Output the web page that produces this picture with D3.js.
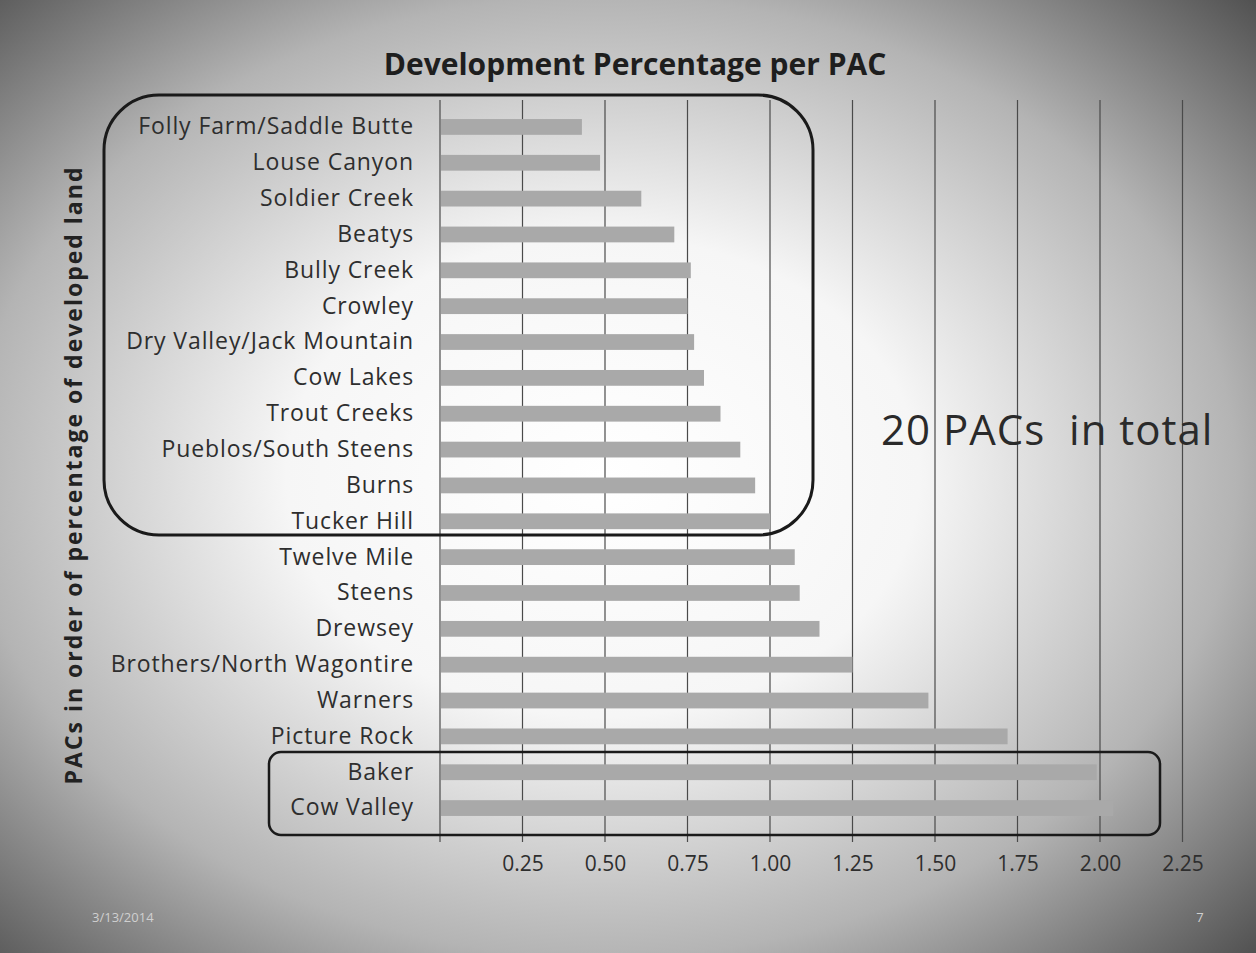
<!DOCTYPE html>
<html>
<head>
<meta charset="utf-8">
<script src="https://cdn.jsdelivr.net/npm/d3@7"></script>
<style>
    html, body { margin: 0; padding: 0; background: #fff; }
    svg { display: block; font-family: "Open Sans", sans-serif; }
</style>
</head>
<body>
<div id="slide"></div>
<script>
// PACs, lowest developed share first
const pacNames = [
    "Folly Farm/Saddle Butte", "Louse Canyon", "Soldier Creek", "Beatys",
    "Bully Creek", "Crowley", "Dry Valley/Jack Mountain", "Cow Lakes",
    "Trout Creeks", "Pueblos/South Steens", "Burns", "Tucker Hill",
    "Twelve Mile", "Steens", "Drewsey", "Brothers/North Wagontire",
    "Warners", "Picture Rock", "Baker", "Cow Valley"
];
const devPercent = [
    0.43, 0.485, 0.61, 0.71, 0.76, 0.75, 0.77, 0.80, 0.85, 0.91,
    0.955, 1.00, 1.075, 1.09, 1.15, 1.25, 1.48, 1.72, 1.99, 2.04
];
const xTicks = [0.25, 0.50, 0.75, 1.00, 1.25, 1.50, 1.75, 2.00, 2.25];

class DevBarChart {
    constructor(_parentElement) {
        this.parentElement = _parentElement;
        this.data = pacNames.map((name, i) => ({ name: name, value: devPercent[i] }));
        this.initVis();
    }

    initVis() {
        let vis = this;

        vis.width = 1256;
        vis.height = 953;

        vis.svg = d3.select("#" + vis.parentElement).append("svg")
            .attr("width", vis.width)
            .attr("height", vis.height);

        // slide background, light in the middle, darker towards the edges
        let grad = vis.svg.append("defs").append("radialGradient")
            .attr("id", "bg-grad")
            .attr("cx", "0.48").attr("cy", "0.5").attr("r", "0.72");
        grad.append("stop").attr("offset", "0").attr("stop-color", "#ffffff");
        grad.append("stop").attr("offset", "0.35").attr("stop-color", "#f6f6f6");
        grad.append("stop").attr("offset", "0.7").attr("stop-color", "#b4b4b4");
        grad.append("stop").attr("offset", "1").attr("stop-color", "#525252");

        vis.svg.append("rect")
            .attr("width", vis.width)
            .attr("height", vis.height)
            .attr("fill", "url(#bg-grad)");

        vis.xScale = d3.scaleLinear()
            .domain([0, 2.25])
            .range([440, 1182.5]);

        vis.yScale = d3.scaleBand()
            .domain(pacNames)
            .range([109, 826])
            .paddingInner(0.56)
            .paddingOuter(0.28);

        // vertical gridlines
        vis.svg.append("g")
            .selectAll("line")
            .data(xTicks)
            .join("line")
            .attr("x1", d => vis.xScale(d))
            .attr("x2", d => vis.xScale(d))
            .attr("y1", 100)
            .attr("y2", 842)
            .attr("stroke", "#4a4a4a")
            .attr("stroke-width", 1.2);

        // bars
        vis.svg.append("g")
            .selectAll("rect")
            .data(vis.data)
            .join("rect")
            .attr("x", vis.xScale(0) + 1)
            .attr("y", d => vis.yScale(d.name))
            .attr("width", d => vis.xScale(d.value) - vis.xScale(0) - 1)
            .attr("height", vis.yScale.bandwidth())
            .attr("fill", "#a9a9a9");

        // y axis (category labels)
        let yAxis = vis.svg.append("g")
            .attr("transform", `translate(${vis.xScale(0)},0)`)
            .call(d3.axisLeft(vis.yScale).tickSize(0).tickPadding(26));
        yAxis.select(".domain")
            .attr("stroke", "#4a4a4a")
            .attr("stroke-width", 1.2)
            .attr("d", "M0,100V842");
        yAxis.selectAll("text")
            .style("font-family", "Open Sans, sans-serif")
            .style("font-size", "23px")
            .style("letter-spacing", "0.9px")
            .style("fill", "#2e2e2e");

        // x axis tick labels
        let xAxis = vis.svg.append("g")
            .attr("transform", "translate(0,844)")
            .call(d3.axisBottom(vis.xScale).tickValues(xTicks).tickFormat(d3.format(".2f")).tickSize(0).tickPadding(12));
        xAxis.select(".domain").remove();
        xAxis.selectAll("text")
            .style("font-family", "Open Sans, sans-serif")
            .style("font-size", "21px")
            .style("fill", "#2e2e2e");

        // title
        vis.svg.append("text")
            .attr("x", 635)
            .attr("y", 75)
            .attr("text-anchor", "middle")
            .style("font-size", "30px")
            .style("font-weight", "bold")
            .style("fill", "#1e1e1e")
            .text("Development Percentage per PAC");

        // y axis title
        vis.svg.append("text")
            .attr("transform", "translate(82,475) rotate(-90)")
            .attr("text-anchor", "middle")
            .style("font-size", "23px")
            .style("font-weight", "bold")
            .style("letter-spacing", "2px")
            .style("fill", "#222")
            .text("PACs in order of percentage of developed land");

        // annotation boxes
        vis.svg.append("rect")
            .attr("x", 104).attr("y", 95)
            .attr("width", 709).attr("height", 440)
            .attr("rx", 55).attr("ry", 55)
            .attr("fill", "none")
            .attr("stroke", "#1a1a1a")
            .attr("stroke-width", 3);

        vis.svg.append("rect")
            .attr("x", 269).attr("y", 752)
            .attr("width", 891).attr("height", 83)
            .attr("rx", 12).attr("ry", 12)
            .attr("fill", "none")
            .attr("stroke", "#1a1a1a")
            .attr("stroke-width", 2.5);

        vis.svg.append("text")
            .attr("x", 881)
            .attr("y", 445)
            .style("font-size", "42px")
            .style("letter-spacing", "1px")
            .style("fill", "#2a2a2a")
            .style("white-space", "pre")
            .text("20 PACs  in total");

        // footer
        vis.svg.append("text")
            .attr("x", 92).attr("y", 922)
            .style("font-size", "13px")
            .style("fill", "#d0d0d0")
            .text("3/13/2014");
        vis.svg.append("text")
            .attr("x", 1200).attr("y", 922)
            .attr("text-anchor", "middle")
            .style("font-size", "13px")
            .style("fill", "#d0d0d0")
            .text("7");
    }
}

new DevBarChart("slide");
</script>
</body>
</html>
